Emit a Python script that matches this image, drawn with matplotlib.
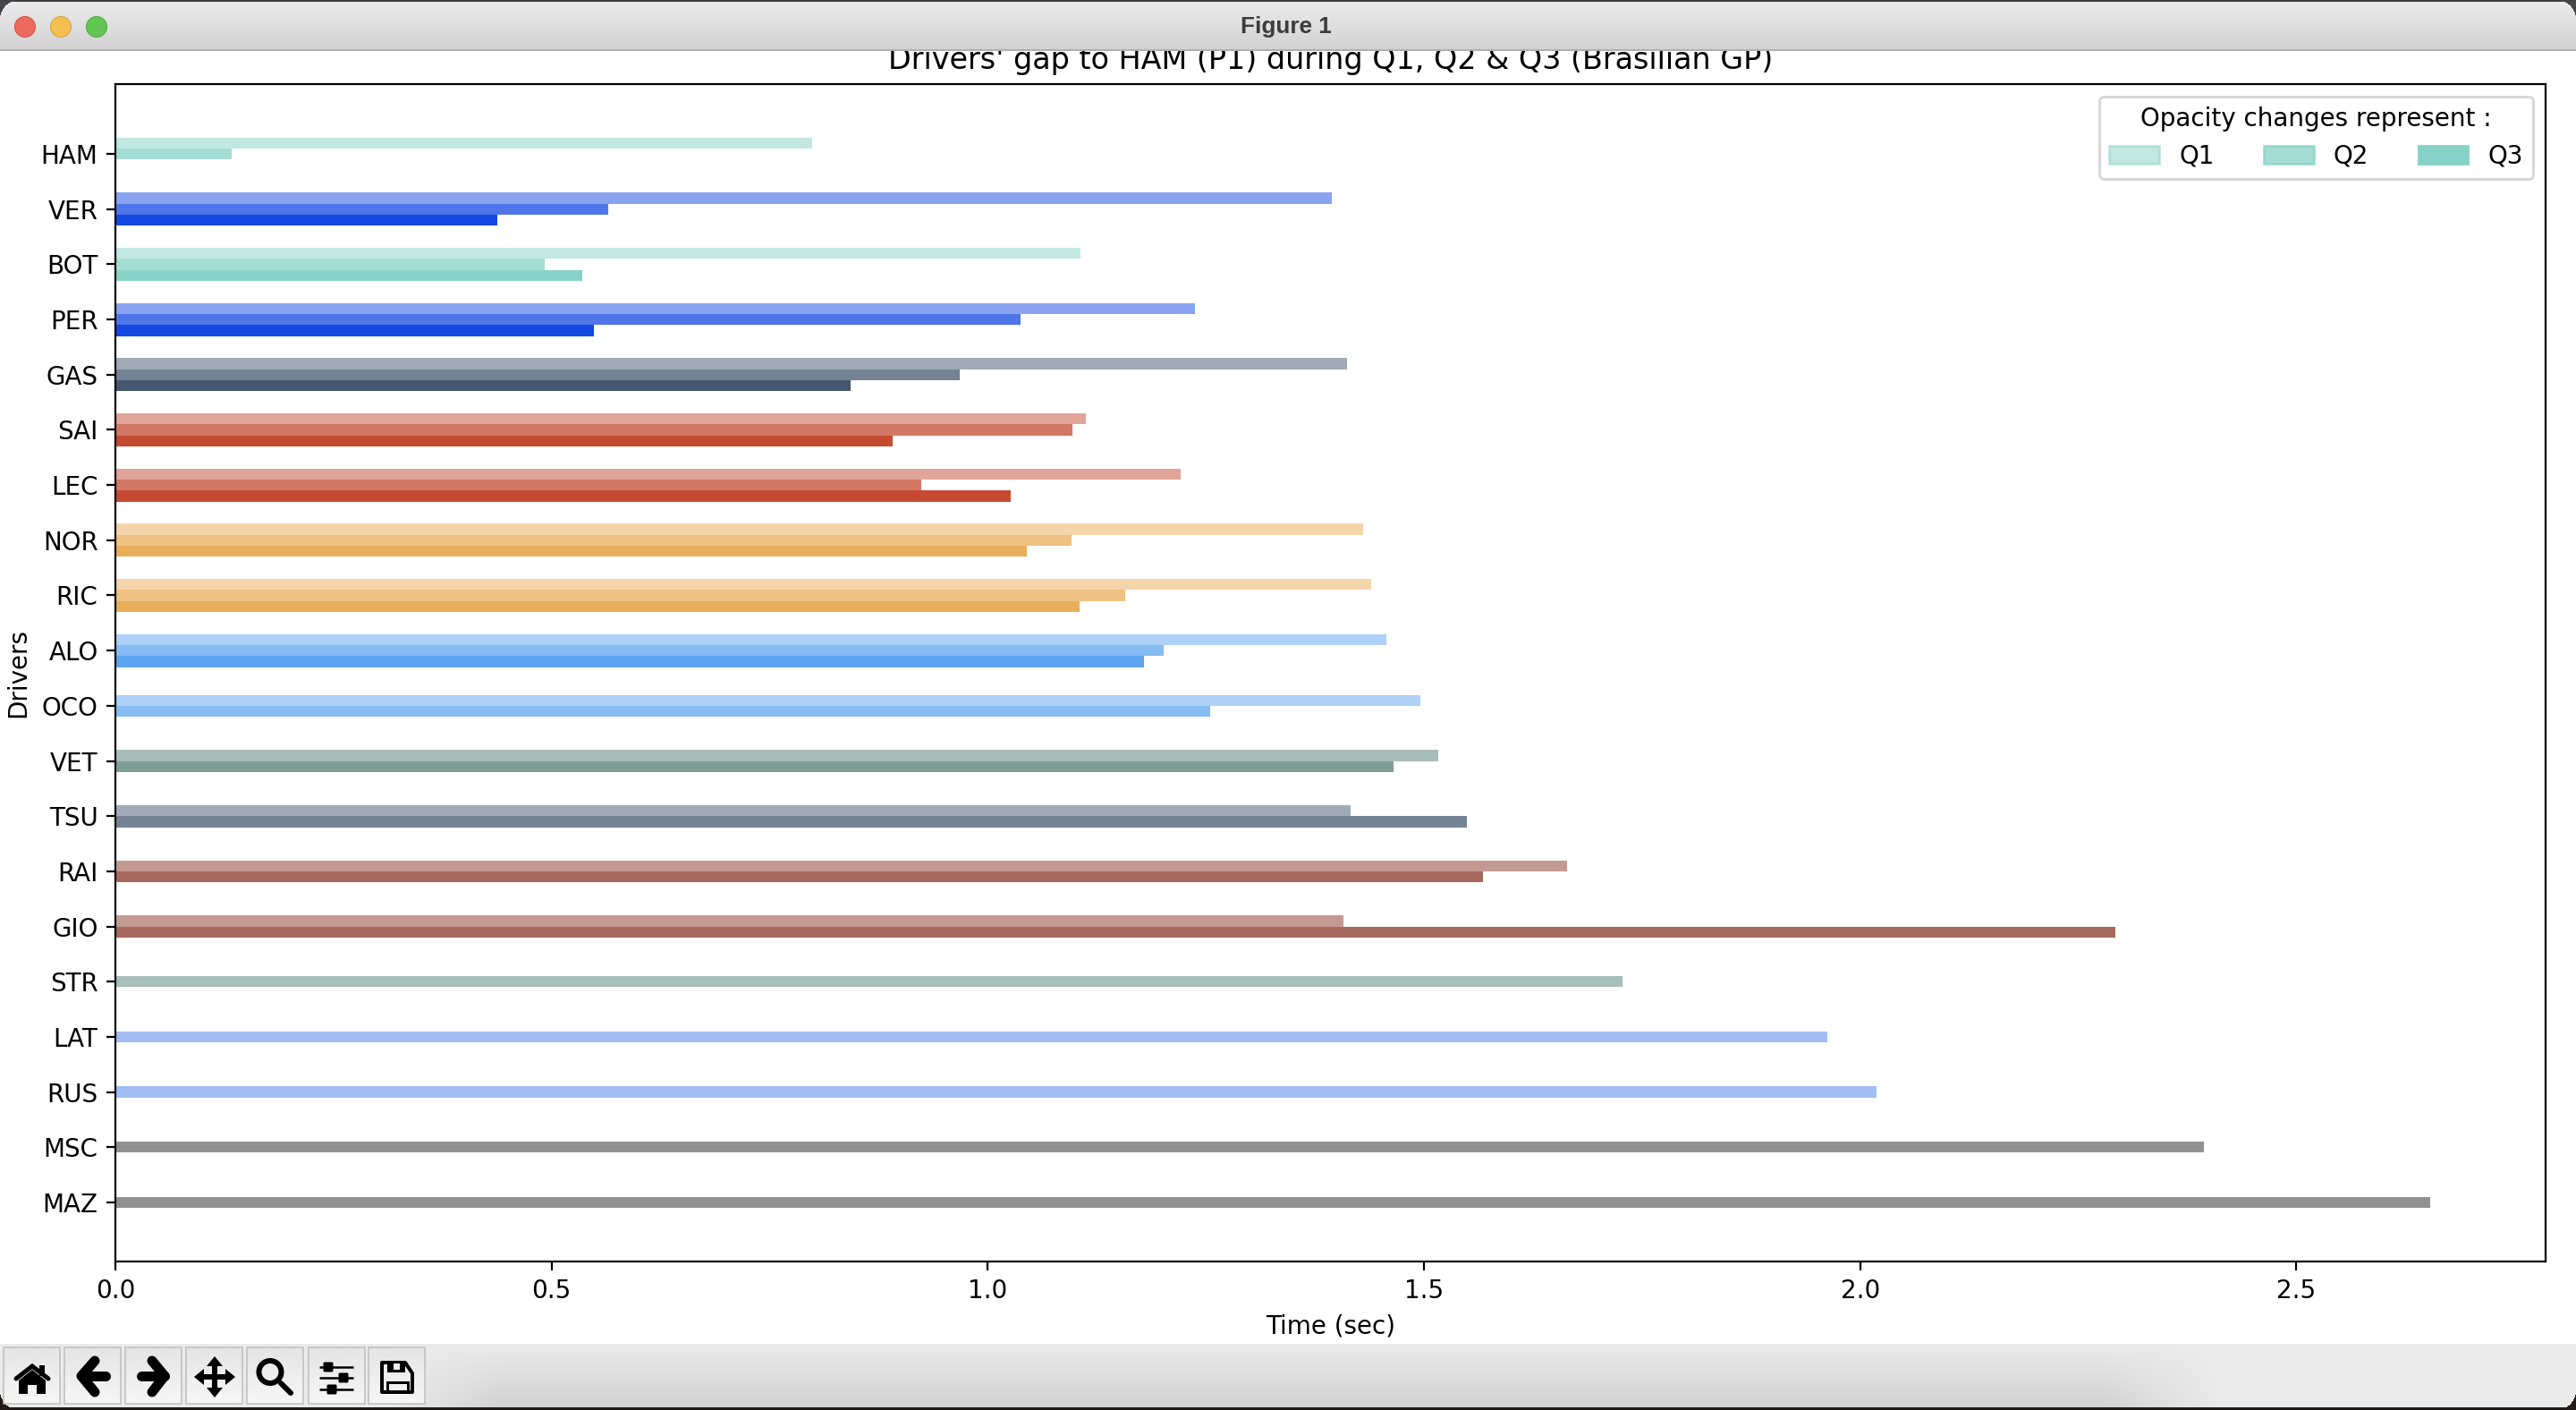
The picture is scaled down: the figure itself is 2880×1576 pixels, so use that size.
#!/usr/bin/env python3
"""
Qualifying gap chart for the Brasilian GP, drawn inside a small window frame
with the title bar and navigation toolbar of the matplotlib viewer.
"""

import numpy as np
import matplotlib
matplotlib.use('Agg')
import matplotlib.pyplot as plt
import matplotlib.patches as mpatches
from matplotlib.patches import Circle, FancyBboxPatch, Polygon, Rectangle

W, H = 2880, 1576
DPI = 200

drivers = ['HAM', 'VER', 'BOT', 'PER', 'GAS', 'SAI', 'LEC', 'NOR', 'RIC', 'ALO',
           'OCO', 'VET', 'TSU', 'RAI', 'GIO', 'STR', 'LAT', 'RUS', 'MSC', 'MAZ']

nan = float('nan')

# gap to pole per session, nan where the driver was already knocked out
q1_gap = [0.799, 1.394, 1.106, 1.237, 1.412, 1.112, 1.221, 1.430, 1.439, 1.457,
          1.496, 1.516, 1.416, 1.664, 1.408, 1.728, 1.962, 2.019, 2.394, 2.653]
q2_gap = [0.133, 0.565, 0.492, 1.038, 0.968, 1.097, 0.924, 1.096, 1.158, 1.202,
          1.255, 1.465, 1.549, 1.568, 2.292, nan, nan, nan, nan, nan]
q3_gap = [0.0, 0.438, 0.535, 0.549, 0.843, 0.891, 1.026, 1.045, 1.105, 1.179,
          nan, nan, nan, nan, nan, nan, nan, nan, nan, nan]

session_labels = ['Q1', 'Q2', 'Q3']

team_colors = {
    'mercedes': '#86d2c6',
    'redbull': '#1448e2',
    'alphatauri': '#455870',
    'ferrari': '#c44b32',
    'mclaren': '#eaad59',
    'alpine': '#5da5f1',
    'aston': '#537e72',
    'alfa': '#883626',
    'williams': '#477deb',
    'haas': '#252525',
}
driver_teams = ['mercedes', 'redbull', 'mercedes', 'redbull', 'alphatauri',
                'ferrari', 'ferrari', 'mclaren', 'mclaren', 'alpine', 'alpine',
                'aston', 'alphatauri', 'alfa', 'alfa', 'aston', 'williams',
                'williams', 'haas', 'haas']

session_alpha = [0.5, 0.75, 1.0]
bar_height = 0.2


def draw_chart(ax):
    """Grouped bars for each driver, one bar per session reached."""
    for i, name in enumerate(drivers):
        gaps = [q1_gap[i], q2_gap[i], q3_gap[i]]
        gaps = [g for g in gaps if not np.isnan(g)]
        # groups are centred on the tick whatever their size
        offsets = (np.arange(len(gaps)) - (len(gaps) - 1) / 2) * bar_height
        color = team_colors[driver_teams[i]]
        for j, gap in enumerate(gaps):
            ax.barh(i + offsets[j], gap, height=bar_height, color=color,
                    alpha=session_alpha[j])

    ax.set_yticks(range(len(drivers)))
    ax.set_yticklabels(drivers)
    ax.set_ylim(20.07, -1.265)
    ax.set_xlabel('Time (sec)')
    ax.set_ylabel('Drivers')
    ax.set_title("Drivers' gap to HAM (P1) during Q1, Q2 & Q3 (Brasilian GP)")

    handles = [mpatches.Patch(color=team_colors['mercedes'], alpha=a, label=s)
               for a, s in zip(session_alpha, session_labels)]
    ax.legend(handles=handles, title='Opacity changes represent :', ncol=3,
              loc='upper right')


def window_background():
    """RGBA layer with title bar, toolbar strip and rounded window corners."""
    img = np.zeros((H, W, 4))

    # title bar
    for y in range(0, 57):
        img[y, :, :3] = (236 - 27 * y / 56) / 255
    img[55:57, :, :3] = 176 / 255
    img[:2, :, :3] = 60 / 255
    img[:57, :, 3] = 1

    # toolbar strip, the shading fades out towards both ends
    xs = np.arange(W)
    shade = np.clip((xs - 430) / 130, 0, 1) * np.clip((2480 - xs) / 130, 0, 1)
    for y in range(1502, H):
        t = (y - 1502) / (H - 1502)
        img[y, :, :3] = ((235 - 27 * t * shade) / 255)[:, None]
    img[1502:, :, 3] = 1
    img[1573:, :, :3] = np.array([30, 25, 25]) / 255

    # dark desktop showing through the rounded corners
    r = 22
    yy, xx = np.mgrid[0:r, 0:r]
    mask = (r - xx - 0.5) ** 2 + (r - yy - 0.5) ** 2 > r ** 2
    top_dark = np.array([70, 70, 72]) / 255
    bottom_dark = np.array([35, 25, 25]) / 255
    img[:r, :r, :3][mask] = top_dark
    img[:r, -r:, :3][mask[:, ::-1]] = top_dark
    img[-r:, :r, :3][mask[::-1, :]] = bottom_dark
    img[-r:, -r:, :3][mask[::-1, ::-1]] = bottom_dark
    return img


def px(width):
    """Line width in points for a width given in pixels."""
    return width * 72 / DPI


def stroke(ax, xs, ys, width, cap='round', join='round', color='black'):
    ax.plot(xs, ys, color=color, lw=px(width), solid_capstyle=cap,
            solid_joinstyle=join, zorder=2)


def draw_buttons(ax):
    lefts = [4, 72, 140, 208, 276, 345, 412]
    gradient = np.linspace(228, 246, 64)[:, None] / 255
    for left in lefts:
        ax.imshow(gradient, extent=(left, left + 63, 1569, 1506), cmap='gray',
                  vmin=0, vmax=1, aspect='auto', zorder=0.5)
        ax.add_patch(Rectangle((left, 1506), 63, 63, fill=False,
                               edgecolor='#bdbdbd', lw=px(1.5), zorder=0.6))


def draw_icons(ax):
    light = '#efefef'

    # home
    ax.add_patch(Polygon([(21, 1543), (36, 1531), (51, 1543), (51, 1558),
                          (41, 1558), (41, 1548), (31, 1548), (31, 1558),
                          (21, 1558)], color='black', lw=0))
    ax.add_patch(Rectangle((44, 1526), 6, 12, color='black', lw=0))
    stroke(ax, [18, 36, 54], [1541, 1527, 1541], 5, join='miter')

    # back and forward arrows
    stroke(ax, [106, 91, 106], [1521, 1538, 1556], 11)
    stroke(ax, [92, 118], [1538, 1538], 11)
    stroke(ax, [170, 184, 170], [1521, 1538, 1556], 11)
    stroke(ax, [158, 184], [1538, 1538], 11)

    # pan
    cx, cy = 240, 1539
    stroke(ax, [cx - 18, cx + 18], [cy, cy], 6, cap='butt')
    stroke(ax, [cx, cx], [cy - 18, cy + 18], 6, cap='butt')
    ax.add_patch(Polygon([(cx - 23, cy), (cx - 12, cy - 9), (cx - 12, cy + 9)], color='black', lw=0))
    ax.add_patch(Polygon([(cx + 23, cy), (cx + 12, cy - 9), (cx + 12, cy + 9)], color='black', lw=0))
    ax.add_patch(Polygon([(cx, cy - 23), (cx - 9, cy - 12), (cx + 9, cy - 12)], color='black', lw=0))
    ax.add_patch(Polygon([(cx, cy + 23), (cx - 9, cy + 12), (cx + 9, cy + 12)], color='black', lw=0))

    # zoom
    ax.add_patch(Circle((302, 1533.5), 12.5, fill=False, edgecolor='black', lw=px(6)))
    stroke(ax, [314, 325], [1546, 1557], 6)

    # settings sliders
    for y, knob in zip([1528, 1540, 1553], [367, 384, 371]):
        stroke(ax, [357, 395], [y, y], 2.5, cap='butt')
        ax.add_patch(FancyBboxPatch((knob - 4, y - 4), 8, 8, boxstyle='round,pad=1.5',
                                    color='black', lw=0, zorder=3))

    # save
    ax.add_patch(Polygon([(427, 1523), (453, 1523), (461, 1535), (461, 1556), (427, 1556)],
                         fill=False, edgecolor='black', lw=px(4), joinstyle='round'))
    ax.add_patch(Rectangle((433, 1522), 20, 12, color='black', lw=0))
    ax.add_patch(Rectangle((440, 1524), 7, 7, color=light, lw=0))
    ax.add_patch(Rectangle((433, 1545), 23, 11, fill=False, edgecolor='black', lw=px(3)))


def draw_window(fig):
    """Frame drawn over the figure, in pixel coordinates."""
    ax = fig.add_axes([0, 0, 1, 1], zorder=10)
    ax.patch.set_visible(False)
    ax.imshow(window_background(), extent=(0, W, H, 0), aspect='auto',
              interpolation='nearest', zorder=0)

    # traffic lights
    lights = [(28, '#ed6a5e', '#d35246'), (68, '#f5bf4f', '#d6a243'), (108, '#62c554', '#52a842')]
    for x, face, edge in lights:
        ax.add_patch(Circle((x, 30), 11.5, facecolor=face, edgecolor=edge, lw=px(1)))
    ax.text(1438, 30, 'Figure 1', ha='center', va='center', fontsize=9.4,
            fontweight='bold', color='#3c3c3c', family='Liberation Sans')

    draw_buttons(ax)
    draw_icons(ax)

    ax.set_xlim(0, W)
    ax.set_ylim(H, 0)
    ax.axis('off')


if __name__ == "__main__":
    fig = plt.figure(figsize=(W / DPI, H / DPI), dpi=DPI)
    ax = fig.add_axes([129 / W, 1 - 1410 / H, (2846 - 129) / W, (1410 - 94) / H])
    draw_chart(ax)
    draw_window(fig)
    fig.savefig('out.png', dpi=DPI)
    plt.close(fig)
